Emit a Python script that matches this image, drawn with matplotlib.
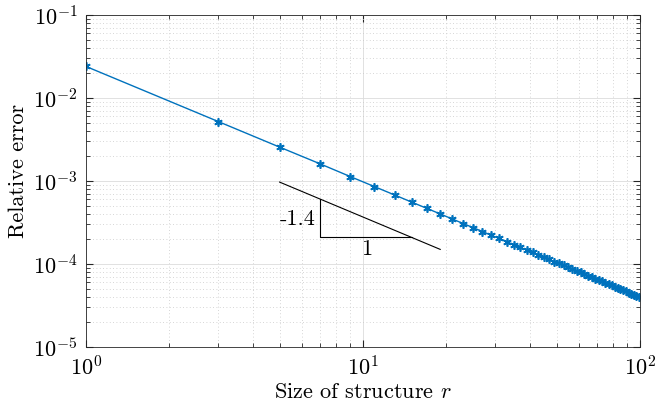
import matplotlib
matplotlib.use("Agg")
import matplotlib.pyplot as plt

# structure sizes (odd values) and relative error
sizes = [1, 3, 5, 7, 9, 11, 13, 15, 17, 19, 21, 23, 25, 27, 29, 31, 33, 35, 37, 39,
         41, 43, 45, 47, 49, 51, 53, 55, 57, 59, 61, 63, 65, 67, 69, 71, 73, 75, 77, 79,
         81, 83, 85, 87, 89, 91, 93, 95, 97, 99]
rel_error = [2.40e-2, 5.21e-3, 2.56e-3, 1.61e-3, 1.13e-3, 8.56e-4, 6.79e-4, 5.56e-4,
             4.68e-4, 4.01e-4, 3.49e-4, 3.07e-4, 2.74e-4, 2.46e-4, 2.23e-4, 2.03e-4,
             1.86e-4, 1.71e-4, 1.59e-4, 1.47e-4, 1.38e-4, 1.29e-4, 1.21e-4, 1.14e-4,
             1.07e-4, 1.015e-4, 9.62e-5, 9.14e-5, 8.70e-5, 8.29e-5, 7.91e-5, 7.56e-5,
             7.24e-5, 6.94e-5, 6.66e-5, 6.40e-5, 6.16e-5, 5.93e-5, 5.72e-5, 5.52e-5,
             5.33e-5, 5.15e-5, 4.98e-5, 4.82e-5, 4.67e-5, 4.53e-5, 4.40e-5, 4.27e-5,
             4.16e-5, 4.04e-5]

# slope indicator
slope_x = [5, 19]
slope_y = [9.7e-4, 1.5e-4]
tri_x = [7, 7, 15]
tri_y = [6.1e-4, 2.1e-4, 2.1e-4]

plt.rcParams['font.family'] = 'cmr10'
plt.rcParams['mathtext.fontset'] = 'cm'
plt.rcParams['axes.formatter.use_mathtext'] = True
plt.rcParams['axes.unicode_minus'] = False

fig = plt.figure(figsize=(6.55, 4.13), dpi=100)
ax = fig.add_axes([86 / 655, 1 - 347 / 413, (640 - 86) / 655, (347 - 15) / 413])

ax.loglog(sizes, rel_error, color='#0072BD', lw=1, marker=(6, 2, 0), ms=6, mew=1.2)
ax.plot(slope_x, slope_y, color='black', lw=0.8)
ax.plot(tri_x, tri_y, color='black', lw=0.8)
ax.text(6.75, 3.5e-4, '-1.4', ha='right', va='center', fontsize=16)
ax.text(10.3, 2.0e-4, '1', ha='center', va='top', fontsize=16)

ax.set_xlim(1, 100)
ax.set_ylim(1e-5, 1e-1)
ax.set_xlabel('Size of structure $r$', fontsize=16, labelpad=2)
ax.set_ylabel('Relative error', fontsize=16)
ax.yaxis.set_label_coords(-0.105, 0.53)

ax.grid(True, which='major', color='#dcdcdc', lw=0.6)
ax.grid(True, which='minor', color='#c8c8c8', lw=0.6, ls=(0, (1, 3)))
ax.tick_params(which='both', direction='in', top=True, right=True, colors='#262626',
               labelcolor='black', labelsize=16, pad=6)
ax.tick_params(which='major', length=5)
ax.tick_params(which='minor', length=3)
for sp in ax.spines.values():
    sp.set_color('#262626')
    sp.set_linewidth(0.6)
ax.set_axisbelow(True)

fig.savefig('out.png', dpi=100)
